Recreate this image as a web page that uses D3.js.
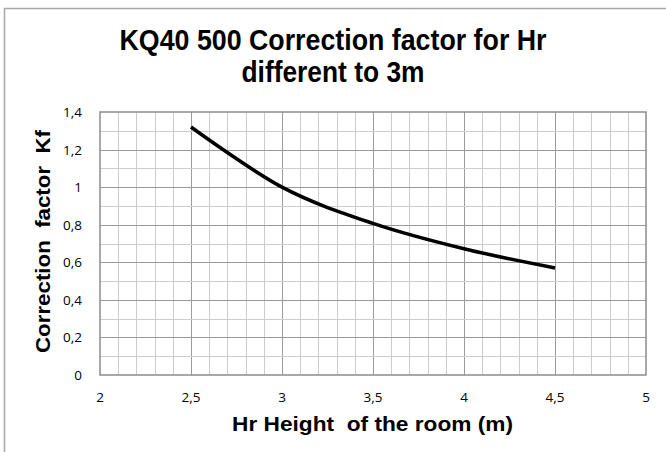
<!DOCTYPE html>
<html>
<head>
<meta charset="utf-8">
<script src="https://cdn.jsdelivr.net/npm/d3@7"></script>
<style>
  body { margin: 0; background: #fff; }
  svg { display: block; }
  .lbl { white-space: pre; }
</style>
</head>
<body>
<div id="chart"></div>
<script>
var width = 666,
    height = 452;

// curve points (smoothed line like the spreadsheet)
var hrValues = [2.5, 3, 3.5, 4, 4.5];
var kfValues = [1.32, 1.0, 0.807, 0.672, 0.57];
var xTicks = [2, 2.5, 3, 3.5, 4, 4.5, 5];
var yTicks = [0, 0.2, 0.4, 0.6, 0.8, 1, 1.2, 1.4];
var titleLines = ["KQ40 500 Correction factor for Hr", "different to 3m"];
var titleWidths = [427, 183];

var margin = {top: 112, right: 20, bottom: 77, left: 100};

var svg = d3.select("#chart").append("svg")
    .attr("width", width)
    .attr("height", height);

// outer chart frame
svg.append("rect")
    .attr("x", 4.5).attr("y", 8.5)
    .attr("width", width + 10).attr("height", height + 10)
    .attr("fill", "none")
    .attr("stroke", "#a6a6a6")
    .attr("stroke-width", 1.5);

var x = d3.scaleLinear().domain([2, 5]).range([margin.left, width - margin.right]);
var y = d3.scaleLinear().domain([0, 1.4]).range([height - margin.bottom, margin.top]);

var fmt = function(d) { return String(d).replace(".", ","); };

var grid = svg.append("g").attr("shape-rendering", "crispEdges");

// minor grid every 0.1, darker every 0.5 (x) and 0.2 (y)
var minorX = d3.range(21, 50).map(function(d) { return d / 10; });
var minorY = d3.range(1, 14).map(function(d) { return d / 10; });

grid.selectAll(".vminor").data(minorX).enter().append("line")
    .attr("x1", function(d) { return Math.round(x(d)) + 0.5; })
    .attr("x2", function(d) { return Math.round(x(d)) + 0.5; })
    .attr("y1", y(0)).attr("y2", y(1.4))
    .attr("stroke", function(d) { return Math.abs(d * 2 - Math.round(d * 2)) < 1e-6 ? "#9a9a9a" : "#cccccc"; })
    .attr("stroke-width", 1.5);

grid.selectAll(".hminor").data(minorY).enter().append("line")
    .attr("y1", function(d) { return Math.round(y(d)) + 0.5; })
    .attr("y2", function(d) { return Math.round(y(d)) + 0.5; })
    .attr("x1", x(2)).attr("x2", x(5))
    .attr("stroke", function(d) { return Math.abs(d * 5 - Math.round(d * 5)) < 1e-6 ? "#9a9a9a" : "#cccccc"; })
    .attr("stroke-width", 1.5);

// plot border
svg.append("rect")
    .attr("x", x(2)).attr("y", y(1.4))
    .attr("width", x(5) - x(2)).attr("height", y(0) - y(1.4))
    .attr("fill", "none")
    .attr("stroke", "#8c8c8c")
    .attr("stroke-width", 1.5);

// tick labels
svg.append("g").selectAll("text").data(xTicks).enter().append("text")
    .attr("x", function(d) { return x(d); })
    .attr("y", 402)
    .attr("text-anchor", "middle")
    .attr("font-family", "'Open Sans', sans-serif")
    .attr("font-size", 13.5)
    .attr("fill", "#000")
    .text(fmt);

svg.append("g").selectAll("text").data(yTicks).enter().append("text")
    .attr("x", 82)
    .attr("y", function(d) { return y(d) + 5; })
    .attr("text-anchor", "end")
    .attr("font-family", "'Open Sans', sans-serif")
    .attr("font-size", 13.5)
    .attr("fill", "#000")
    .text(fmt);

// the curve
var line = d3.line()
    .x(function(d, i) { return x(hrValues[i]); })
    .y(function(d) { return y(d); })
    .curve(d3.curveCardinal.tension(0));

svg.append("path")
    .datum(kfValues)
    .attr("d", line)
    .attr("fill", "none")
    .attr("stroke", "#000")
    .attr("stroke-width", 3.5);

// titles
svg.append("g").selectAll("text").data(titleLines).enter().append("text")
    .attr("x", 333)
    .attr("y", function(d, i) { return 50 + i * 32; })
    .attr("text-anchor", "middle")
    .attr("font-family", "'Liberation Sans', Arial, sans-serif")
    .attr("font-weight", "bold")
    .attr("font-size", 29)
    .attr("textLength", function(d, i) { return titleWidths[i]; })
    .attr("lengthAdjust", "spacingAndGlyphs")
    .text(function(d) { return d; });

svg.append("text")
    .attr("class", "lbl")
    .attr("x", 372.5).attr("y", 431)
    .attr("text-anchor", "middle")
    .attr("font-family", "'Liberation Sans', Arial, sans-serif")
    .attr("font-weight", "bold")
    .attr("font-size", 21)
    .attr("textLength", 281)
    .attr("lengthAdjust", "spacingAndGlyphs")
    .text("Hr Height  of the room (m)");

svg.append("text")
    .attr("class", "lbl")
    .attr("transform", "translate(50,241.5) rotate(-90)")
    .attr("text-anchor", "middle")
    .attr("font-family", "'Liberation Sans', Arial, sans-serif")
    .attr("font-weight", "bold")
    .attr("font-size", 21)
    .attr("textLength", 223)
    .attr("lengthAdjust", "spacingAndGlyphs")
    .text("Correction  factor  Kf");
</script>
</body>
</html>
